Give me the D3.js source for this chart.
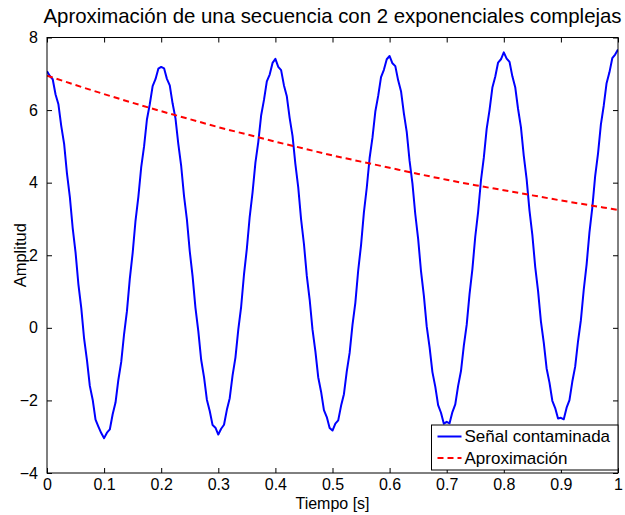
<!DOCTYPE html>
<html>
<head>
<meta charset="utf-8">
<script src="https://cdn.jsdelivr.net/npm/d3@7"></script>
<style>
  html, body { margin: 0; padding: 0; background: #fff; }
  svg { display: block; font-family: "Liberation Sans", Arial, Helvetica, sans-serif; }
</style>
</head>
<body>
<svg id="chart" width="625" height="515"></svg>
<script>
// ---- Data ----
const titleText = "Aproximación de una secuencia con 2 exponenciales complejas";
const xLabel = "Tiempo [s]";
const yLabel = "Amplitud";
const seriesNames = ["Señal contaminada", "Aproximación"];
const xTicks = [0, 0.1, 0.2, 0.3, 0.4, 0.5, 0.6, 0.7, 0.8, 0.9, 1];
const yTicks = [-4, -2, 0, 2, 4, 6, 8];
const signalStep = 0.005; // seconds between samples of the noisy signal
const signalValues = [
  7.07, 6.94, 6.85, 6.43, 6.16, 5.56, 5.07, 4.25, 3.61, 2.75,
  2.08, 1.20, 0.55, -0.30, -0.89, -1.60, -1.98, -2.53, -2.72, -2.90,
  -3.04, -2.89, -2.80, -2.38, -2.06, -1.43, -0.94, -0.17, 0.46, 1.35,
  2.06, 2.95, 3.61, 4.43, 5.00, 5.74, 6.16, 6.66, 6.85, 7.14,
  7.19, 7.15, 6.86, 6.68, 6.18, 5.77, 5.06, 4.46, 3.63, 2.99,
  2.11, 1.42, 0.55, -0.09, -0.88, -1.36, -1.98, -2.29, -2.68, -2.75,
  -2.94, -2.78, -2.67, -2.26, -1.94, -1.31, -0.82, -0.05, 0.58, 1.47,
  2.18, 3.06, 3.73, 4.55, 5.12, 5.85, 6.28, 6.79, 6.98, 7.30,
  7.41, 7.19, 7.10, 6.68, 6.38, 5.78, 5.29, 4.51, 3.87, 2.99,
  2.31, 1.43, 0.78, -0.05, -0.64, -1.36, -1.76, -2.27, -2.46, -2.76,
  -2.83, -2.64, -2.55, -2.15, -1.83, -1.20, -0.69, 0.08, 0.69, 1.58,
  2.28, 3.18, 3.86, 4.68, 5.24, 5.96, 6.39, 6.91, 7.11, 7.40,
  7.49, 7.29, 7.21, 6.82, 6.52, 5.91, 5.40, 4.60, 3.98, 3.13,
  2.45, 1.56, 0.89, 0.04, -0.53, -1.22, -1.62, -2.13, -2.34, -2.64,
  -2.59, -2.63, -2.32, -2.11, -1.60, -1.19, -0.49, 0.08, 0.93, 1.62,
  2.51, 3.19, 4.06, 4.69, 5.48, 6.00, 6.62, 6.92, 7.31, 7.40,
  7.59, 7.42, 7.33, 6.93, 6.63, 6.03, 5.53, 4.74, 4.10, 3.23,
  2.56, 1.68, 1.02, 0.18, -0.41, -1.12, -1.51, -2.01, -2.21, -2.50,
  -2.48, -2.52, -2.20, -1.99, -1.48, -1.07, -0.37, 0.21, 1.05, 1.74,
  2.63, 3.31, 4.18, 4.80, 5.60, 6.12, 6.74, 7.04, 7.43, 7.53,
  7.67
];
const approxStep = 0.05;
const approxValues = [
  6.95, 6.69, 6.44, 6.20, 5.97, 5.75, 5.53, 5.33, 5.13, 4.94,
  4.75, 4.58, 4.41, 4.24, 4.08, 3.93, 3.79, 3.65, 3.51, 3.38,
  3.25
];

// ---- Layout ----
const svg = d3.select("#chart");
const margin = { left: 47, right: 7, top: 37.5, bottom: 42 };
const W = 625, H = 515;
const x = d3.scaleLinear().domain([0, 1]).range([margin.left, W - margin.right]);
const y = d3.scaleLinear().domain([-4, 8]).range([H - margin.bottom, margin.top]);

const signal = signalValues.map((v, i) => [i * signalStep, v]);
const approx = approxValues.map((v, i) => [i * approxStep, v]);

svg.append("defs").append("clipPath").attr("id", "clip")
  .append("rect")
  .attr("x", x(0)).attr("y", y(8))
  .attr("width", x(1) - x(0)).attr("height", y(-4) - y(8));

const plot = svg.append("g").attr("clip-path", "url(#clip)");

const line = d3.line().x(d => x(d[0])).y(d => y(d[1]));

plot.append("path")
  .datum(signal)
  .attr("fill", "none")
  .attr("stroke", "#0000ff")
  .attr("stroke-width", 2)
  .attr("stroke-linejoin", "round")
  .attr("d", line);

plot.append("path")
  .datum(approx)
  .attr("fill", "none")
  .attr("stroke", "#ff0000")
  .attr("stroke-width", 2)
  .attr("stroke-dasharray", "6,4")
  .attr("d", line.curve(d3.curveMonotoneX));

// ---- Axes (box with inward ticks on all four sides) ----
const tickLen = 5;
const fmtX = d => d === 0 ? "0" : (d === 1 ? "1" : d3.format(".1f")(d));
const fmtY = d => d < 0 ? "\u2212" + Math.abs(d) : String(d);

const axB = d3.axisBottom(x).tickValues(xTicks).tickSize(-tickLen).tickPadding(6).tickFormat(fmtX);
const axT = d3.axisTop(x).tickValues(xTicks).tickSize(-tickLen).tickFormat("");
const axL = d3.axisLeft(y).tickValues(yTicks).tickSize(-tickLen).tickPadding(9).tickFormat(fmtY);
const axR = d3.axisRight(y).tickValues(yTicks).tickSize(-tickLen).tickFormat("");

function styleAxis(g) {
  g.select(".domain").remove();
  g.selectAll(".tick line").attr("stroke", "#000").attr("stroke-width", 1);
  g.selectAll(".tick text").attr("fill", "#000").attr("font-size", "16px")
    .attr("font-family", "'Liberation Sans', Arial, sans-serif");
}

svg.append("g").attr("transform", `translate(0,${y(-4)})`).call(axB).call(styleAxis);
svg.append("g").attr("transform", `translate(0,${y(8)})`).call(axT).call(styleAxis);
svg.append("g").attr("transform", `translate(${x(0)},0)`).call(axL).call(styleAxis);
svg.append("g").attr("transform", `translate(${x(1)},0)`).call(axR).call(styleAxis);

svg.append("rect")
  .attr("x", x(0)).attr("y", y(8))
  .attr("width", x(1) - x(0)).attr("height", y(-4) - y(8))
  .attr("fill", "none").attr("stroke", "#000").attr("stroke-width", 1);

// ---- Titles ----
svg.append("text")
  .attr("x", (x(0) + x(1)) / 2).attr("y", 22.5)
  .attr("text-anchor", "middle")
  .attr("font-size", "20.4px")
  .attr("fill", "#000")
  .text(titleText);

svg.append("text")
  .attr("x", (x(0) + x(1)) / 2).attr("y", 508.5)
  .attr("text-anchor", "middle")
  .attr("font-size", "16px")
  .attr("fill", "#000")
  .text(xLabel);

svg.append("text")
  .attr("transform", `translate(26,${(y(8) + y(-4)) / 2}) rotate(-90)`)
  .attr("text-anchor", "middle")
  .attr("font-size", "16.5px")
  .attr("fill", "#000")
  .text(yLabel);

// ---- Legend ----
const legX = 431.5, legY = 425, legW = x(1) - 431.5, legH = 45;
const leg = svg.append("g");
leg.append("rect")
  .attr("x", legX).attr("y", legY).attr("width", legW).attr("height", legH)
  .attr("fill", "#fff").attr("stroke", "#000").attr("stroke-width", 1);

const legStyles = [
  { color: "#0000ff", dash: null },
  { color: "#ff0000", dash: "6,4" }
];
seriesNames.forEach((name, i) => {
  const cy = legY + 11.5 + i * 21.5;
  leg.append("line")
    .attr("x1", legX + 6).attr("x2", legX + 30)
    .attr("y1", cy).attr("y2", cy)
    .attr("stroke", legStyles[i].color).attr("stroke-width", 2)
    .attr("stroke-dasharray", legStyles[i].dash);
  leg.append("text")
    .attr("x", legX + 33).attr("y", cy)
    .attr("dy", "0.35em")
    .attr("font-size", "17px")
    .attr("fill", "#000")
    .text(name);
});
</script>
</body>
</html>
